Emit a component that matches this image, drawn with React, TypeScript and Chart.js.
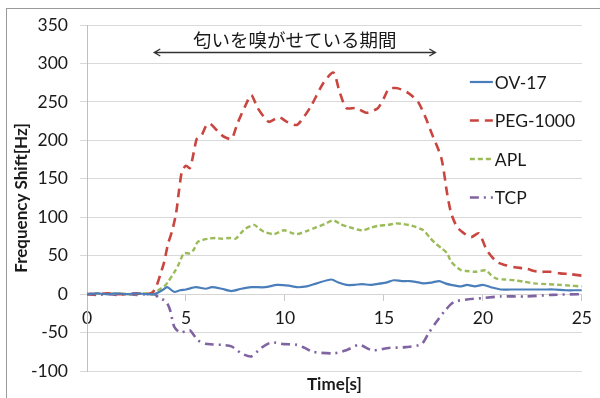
import React, { useEffect, useRef } from "react";
import { Chart, registerables } from "chart.js";

Chart.register(...registerables);

// ---- Data ----
const seriesNames = ["OV-17", "PEG-1000", "APL", "TCP"];

const ov17Time = [0, 0.5, 1, 1.5, 2, 2.5, 3, 3.4, 3.8, 4.05, 4.4, 4.7, 5.0, 5.5, 6.0, 6.3, 6.8, 7.3, 7.8, 8.3, 9.0, 9.6, 10.2, 10.6, 11.1, 11.6, 12.35, 12.7, 13.1, 13.5, 13.9, 14.3, 14.6, 15.1, 15.5, 15.9, 16.3, 16.6, 17.0, 17.4, 17.8, 18.1, 18.4, 18.9, 19.2, 19.6, 20.0, 20.4, 20.9, 21.4, 22.0, 22.6, 23.1, 23.6, 24.2, 24.6, 25];
const ov17Values = [0, 1, 0, 1, 0, 1, 0, 0, 5, 9, 3, 5, 6, 9, 7, 9, 7, 4, 7, 9, 9, 12, 11, 9, 10, 14, 19, 15, 12, 12, 13, 12, 13, 15, 18, 17, 17, 16, 14, 15, 17, 14, 12, 10, 12, 10, 12, 9, 6, 6, 6, 6, 6, 6, 5, 5, 5];

const pegTime = [0, 0.5, 1, 1.5, 2, 2.5, 3, 3.3, 3.5, 3.7, 3.9, 4.1, 4.3, 4.5, 4.65, 4.8, 5.0, 5.2, 5.4, 5.55, 5.8, 6.0, 6.2, 6.6, 6.9, 7.3, 7.6, 8.0, 8.3, 8.6, 8.95, 9.2, 9.7, 10.1, 10.6, 11.0, 11.35, 11.95, 12.45, 12.75, 13.1, 13.6, 14.1, 14.4, 14.7, 15.0, 15.25, 15.6, 15.9, 16.2, 16.5, 16.75, 17.1, 17.4, 17.9, 18.2, 18.4, 18.7, 19.0, 19.4, 19.8, 20.2, 20.7, 21.1, 21.6, 22.2, 22.6, 22.9, 23.4, 23.9, 24.4, 25];
const pegValues = [0, 0, 1, 0, 0, 1, 0, 2, 10, 25, 42, 66, 82, 105, 135, 160, 167, 164, 185, 202, 207, 218, 222, 212, 205, 202, 222, 245, 259, 243, 230, 224, 230, 224, 220, 232, 246, 275, 288, 264, 242, 242, 236, 238, 242, 255, 267, 268, 266, 262, 256, 249, 230, 210, 177, 130, 105, 87, 80, 74, 79, 57, 42, 38, 35, 33, 30, 29, 29, 27, 26, 24];

const aplTime = [0, 0.5, 1, 1.5, 2, 2.5, 3, 3.4, 3.6, 3.9, 4.1, 4.4, 4.6, 4.9, 5.2, 5.4, 5.6, 6.1, 6.5, 6.8, 7.2, 7.5, 7.8, 8.0, 8.45, 8.7, 8.95, 9.45, 9.95, 10.3, 10.6, 11.1, 11.6, 12.0, 12.45, 12.8, 13.25, 13.9, 14.3, 14.75, 15.2, 15.6, 16.0, 16.4, 17.0, 17.3, 17.6, 17.9, 18.2, 18.4, 18.9, 19.2, 19.6, 20.15, 20.4, 20.7, 21.1, 21.6, 22.1, 22.6, 23.2, 23.9, 24.4, 25];
const aplValues = [0, 1, 0, 1, 0, 0, 1, 0, 5, 10, 16, 28, 37, 53, 53, 58, 68, 72, 73, 72, 73, 72, 80, 85, 90, 85, 81, 78, 83, 80, 78, 82, 87, 91, 96, 91, 87, 83, 86, 89, 90, 92, 91, 89, 83, 74, 66, 60, 53, 42, 31, 30, 29, 31, 25, 20, 19, 18, 16, 14, 13, 12, 11, 10];

const tcpTime = [0, 0.5, 1, 1.5, 2, 2.5, 3, 3.4, 3.6, 4.0, 4.2, 4.4, 4.7, 5.0, 5.2, 5.6, 6.1, 6.8, 7.3, 7.8, 8.3, 8.8, 9.3, 9.95, 10.6, 11.0, 11.4, 12.45, 13.1, 13.75, 14.4, 15.25, 16.1, 16.9, 17.25, 17.6, 18.1, 18.55, 19.2, 20.05, 20.9, 22.2, 23.5, 25];
const tcpValues = [0, -1, 0, -1, 0, -1, 0, 0, -4, -10, -21, -42, -50, -48, -47, -60, -65, -66, -68, -77, -81, -70, -63, -65, -66, -70, -75, -77, -73, -66, -73, -70, -69, -65, -51, -38, -21, -10, -7, -5, -3, -3, -1, 0];

const seriesTimes = [ov17Time, pegTime, aplTime, tcpTime];
const seriesValues = [ov17Values, pegValues, aplValues, tcpValues];

// Axes
const xMin = 0;
const xMax = 25;
const xStep = 5;
const yMin = -100;
const yMax = 350;
const yStep = 50;
const xTitle = "Time[s]";
const yTitle = "Frequency Shift[Hz]";

// Annotation (data units)
const annotationText = "匂いを嗅がせている期間";
const annotationFrom = 3.4;
const annotationTo = 17.6;
const annotationArrowLevel = 315;
const annotationTextLevel = 331;

// Styles
const colors = ["#4a7ebb", "#c9453f", "#9bbb59", "#8064a2"];
const dashes: number[][] = [[], [9, 6], [5, 3], [9, 5, 2, 5]];
const widths = [2.2, 2.6, 2.4, 2.6];

const FONT = "Lato, 'Open Sans', 'Noto Sans', sans-serif";
const TEXT = "#1a1a1a";

const decorPlugin = {
  id: "decor",
  beforeDraw(chart: any) {
    const ctx = chart.ctx;
    ctx.save();
    ctx.strokeStyle = "#9a9a9a";
    ctx.lineWidth = 1;
    ctx.strokeRect(6.5, 8.5, 700, 500);
    ctx.restore();
  },
  afterDraw(chart: any) {
    const ctx = chart.ctx;
    const ca = chart.chartArea;
    const xs = chart.scales.x;
    const ys = chart.scales.y;
    ctx.save();

    // Axis titles
    ctx.fillStyle = TEXT;
    ctx.font = `bold 17px ${FONT}`;
    ctx.textAlign = "center";
    ctx.textBaseline = "middle";
    ctx.fillText(xTitle, (ca.left + ca.right) / 2, 385);
    ctx.save();
    ctx.translate(22, (ca.top + ca.bottom) / 2);
    ctx.rotate(-Math.PI / 2);
    ctx.fillText(yTitle, 0, 0);
    ctx.restore();

    // Annotation arrow
    const ax1 = xs.getPixelForValue(annotationFrom);
    const ax2 = xs.getPixelForValue(annotationTo);
    const ay = Math.round(ys.getPixelForValue(annotationArrowLevel)) + 0.5;
    ctx.strokeStyle = "#333";
    ctx.lineWidth = 1.4;
    ctx.setLineDash([]);
    ctx.beginPath();
    ctx.moveTo(ax1, ay);
    ctx.lineTo(ax2, ay);
    ctx.moveTo(ax1 + 6, ay - 3.5);
    ctx.lineTo(ax1, ay);
    ctx.lineTo(ax1 + 6, ay + 3.5);
    ctx.moveTo(ax2 - 6, ay - 3.5);
    ctx.lineTo(ax2, ay);
    ctx.lineTo(ax2 - 6, ay + 3.5);
    ctx.stroke();

    ctx.fillStyle = TEXT;
    ctx.font = `18.5px 'Noto Sans CJK JP', sans-serif`;
    ctx.textAlign = "center";
    ctx.textBaseline = "middle";
    ctx.fillText(
      annotationText,
      xs.getPixelForValue((annotationFrom + annotationTo) / 2),
      ys.getPixelForValue(annotationTextLevel)
    );

    // Legend
    const lx = ca.right - 112;
    const ly0 = ca.top + 57;
    const lstep = 38.5;
    chart.data.datasets.forEach((ds: any, i: number) => {
      const y = ly0 + i * lstep;
      ctx.strokeStyle = ds.borderColor;
      ctx.lineWidth = ds.borderWidth;
      ctx.setLineDash(ds.borderDash || []);
      ctx.beginPath();
      ctx.moveTo(lx, y);
      ctx.lineTo(lx + 23, y);
      ctx.stroke();
      ctx.setLineDash([]);
      ctx.fillStyle = TEXT;
      ctx.font = `17.5px ${FONT}`;
      ctx.textAlign = "left";
      ctx.textBaseline = "middle";
      ctx.fillText(ds.label, lx + 25, y + 1);
    });
    ctx.restore();
  },
};

export default function App() {
  const ref = useRef<HTMLCanvasElement | null>(null);

  useEffect(() => {
    if (!ref.current) return;
    const datasets = seriesNames.map((name, i) => ({
      label: name,
      data: seriesTimes[i].map((t, j) => ({ x: t, y: seriesValues[i][j] })),
      borderColor: colors[i],
      backgroundColor: colors[i],
      borderWidth: widths[i],
      borderDash: dashes[i],
      pointRadius: 0,
      tension: 0.25,
      fill: false,
    }));
    const chart = new Chart(ref.current, {
      type: "line",
      data: { datasets },
      options: {
        animation: false,
        responsive: false,
        layout: { padding: { left: 0, top: 25, right: 11, bottom: 27 } },
        plugins: {
          legend: { display: false },
          tooltip: { enabled: false },
          title: { display: false },
        },
        scales: {
          x: {
            type: "linear",
            position: { y: 0 } as any,
            min: xMin,
            max: xMax,
            ticks: {
              stepSize: xStep,
              font: { family: FONT, size: 17.5 },
              color: TEXT,
              padding: 8,
              maxRotation: 0,
            },
            grid: { drawOnChartArea: false, tickLength: 6, color: "#c8c8c8" },
            border: { display: true, color: "#d4d4d4" },
          },
          y: {
            min: yMin,
            max: yMax,
            ticks: {
              stepSize: yStep,
              font: { family: FONT, size: 17.5 },
              color: TEXT,
              padding: 12,
            },
            grid: { color: "#d9d9d9", tickLength: 7, lineWidth: 1 },
            border: { display: true, color: "#bfbfbf" },
            afterFit: (s: any) => {
              s.width = 87;
            },
          },
        },
      },
      plugins: [decorPlugin],
    });
    return () => chart.destroy();
  }, []);

  return (
    <div style={{ position: "absolute", left: 0, top: 0, width: 600, height: 398, background: "#fff" }}>
      <canvas ref={ref} width={600} height={398} style={{ display: "block" }} />
    </div>
  );
}
